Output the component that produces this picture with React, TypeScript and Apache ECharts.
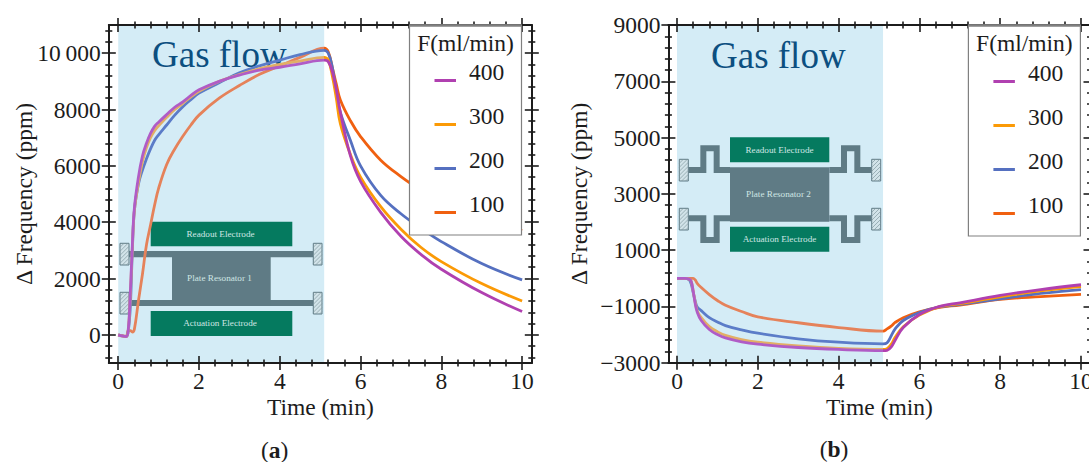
import React, { useEffect, useRef } from "react";
import * as echarts from "echarts";

// ---------- data ----------
const flowNames = ["400", "300", "200", "100"];
const gasWindow = [0, 5.1];

const timeA = [0, 0.1, 0.2, 0.25, 0.3, 0.35, 0.4, 0.5, 0.6, 0.7, 0.8, 0.9, 1, 1.2, 1.4, 1.6, 1.8, 2, 2.5, 3, 3.5, 4, 4.5, 5.1, 5.2, 5.3, 5.4, 5.5, 5.75, 6, 6.5, 7, 7.5, 8, 9, 10];
const a400 = [0, -40, -60, 200, 1500, 3200, 4500, 5600, 6350, 6800, 7150, 7400, 7550, 7820, 8080, 8270, 8500, 8700, 9000, 9220, 9400, 9500, 9620, 9750, 9700, 9350, 8700, 7900, 6350, 5450, 4350, 3500, 2850, 2330, 1500, 827];
const a300 = [0, -40, -60, 200, 1400, 3100, 4400, 5400, 6150, 6650, 7000, 7250, 7420, 7720, 8000, 8220, 8450, 8650, 9000, 9240, 9450, 9600, 9720, 9850, 9750, 9200, 8400, 7500, 6400, 5600, 4550, 3750, 3100, 2600, 1820, 1200];
const a200 = [0, -40, -60, 150, 1000, 3000, 4400, 5350, 5850, 6250, 6600, 6900, 7100, 7450, 7800, 8100, 8350, 8580, 8950, 9300, 9550, 9750, 9950, 10100, 10000, 9500, 8600, 7900, 6900, 6000, 4950, 4300, 3780, 3310, 2530, 1950];
const a100 = [0, -40, -50, 150, 150, 100, 200, 1200, 2150, 3200, 3900, 4600, 5200, 6050, 6600, 7050, 7450, 7800, 8400, 8850, 9250, 9550, 9850, 10180, 10050, 9500, 8900, 8340, 7600, 7040, 6200, 5620, 5130, 4700, 4150, 3700];

const timeB = [0, 0.2, 0.3, 0.35, 0.4, 0.45, 0.5, 0.6, 0.8, 1, 1.2, 1.6, 2, 3, 4, 5.1, 5.2, 5.3, 5.4, 5.6, 6, 6.5, 7, 8, 9, 10];
const b400 = [0, 0, -30, -100, -450, -900, -1200, -1500, -1820, -2000, -2120, -2260, -2340, -2460, -2530, -2570, -2560, -2450, -2200, -1750, -1290, -1000, -870, -610, -400, -230];
const b300 = [0, 0, -30, -100, -450, -850, -1150, -1400, -1720, -1900, -2030, -2180, -2270, -2400, -2490, -2530, -2500, -2350, -2100, -1720, -1310, -1010, -900, -660, -450, -300];
const b200 = [0, 0, -50, -200, -500, -800, -1020, -1150, -1400, -1550, -1680, -1830, -1950, -2150, -2270, -2330, -2290, -2050, -1800, -1500, -1220, -1020, -930, -730, -540, -400];
const b100 = [0, 0, 0, 0, 0, -60, -180, -330, -580, -790, -960, -1180, -1370, -1580, -1750, -1880, -1800, -1700, -1570, -1400, -1190, -1035, -950, -750, -650, -570];

const xTicks = [0, 2, 4, 6, 8, 10];
const yTicksA = [0, 2000, 4000, 6000, 8000, 10000];
const yLabelsA = ["0", "2000", "4000", "6000", "8000", "10\u2009000"];
const yTicksB = [-3000, -1000, 1000, 3000, 5000, 7000, 9000];
const yLabelsB = ["\u22123000", "\u22121000", "1000", "3000", "5000", "7000", "9000"];

// ---------- styles ----------
const FONT = '"Liberation Serif", "Times New Roman", serif';
const INK = "#1c1c1c";
const GAS = "#d4ecf6";
const GREEN = "#057a5f";
const SLATE = "#5f7b85";
const lineColors = ["#b040b0", "#fb9a06", "#5570c0", "#f06010"]; // outside the gas region
const gasColors = ["#b05cc6", "#e2ae66", "#5b7cc8", "#e5825a"]; // inside the gas region
// transparent corners stretch the icon box, so the stroke sits low and left in it
const LEGEND_ICON = "path://M0 0L0 0M295 0L295 0M295 200L295 200M0 170H215V200H0Z";

function minorValues(min: number, max: number, step: number, majorStep: number, anchor: number) {
  const out: number[] = [];
  const start = Math.ceil((min - anchor) / step);
  for (let k = start; anchor + k * step <= max + 1e-9; k++) {
    if (k % Math.round(majorStep / step) !== 0) out.push(anchor + k * step);
  }
  return out;
}

type Panel = {
  left: number; top: number; width: number; height: number;
  xMin: number; xMax: number; yMin: number; yMax: number;
  yTicks: number[]; yLabels: string[]; yMinorAnchor: number;
  time: number[]; series: number[][];
  xGap: number; yGap: number;
};

const panels: Panel[] = [
  {
    left: 108.8, top: 25, width: 423, height: 338,
    xMin: -0.233, xMax: 10.24, yMin: -1000, yMax: 11000,
    yTicks: yTicksA, yLabels: yLabelsA, yMinorAnchor: 0,
    time: timeA, series: [a400, a300, a200, a100], xGap: 25, yGap: 66,
  },
  {
    left: 668.4, top: 25, width: 422.1, height: 337.7,
    xMin: -0.213, xMax: 10.235, yMin: -3000, yMax: 9000,
    yTicks: yTicksB, yLabels: yLabelsB, yMinorAnchor: -3000,
    time: timeB, series: [b400, b300, b200, b100], xGap: 25, yGap: 70,
  },
];

const T = 3; // axis z
const base = { type: "value" as const, z: T, silent: true, splitLine: { show: false }, axisPointer: { show: false } };
const label = { color: INK, fontFamily: FONT, fontSize: 23.5 };

function buildAxes(p: Panel, gridIndex: number) {
  const xMinor = minorValues(p.xMin, p.xMax, 0.4, 2, 0);
  const yMinor = minorValues(p.yMin, p.yMax, 400, 2000, p.yMinorAnchor);
  const xs: any[] = [];
  const ys: any[] = [];
  const off = { axisLine: { show: false }, axisTick: { show: false }, axisLabel: { show: false } };
  const make = (dim: "x" | "y", position: string) => {
    const isX = dim === "x";
    const main = position === "bottom" || position === "left";
    const range = isX ? { min: p.xMin, max: p.xMax } : { min: p.yMin, max: p.yMax };
    const majors = isX ? xTicks : p.yTicks;
    const minors = isX ? xMinor : yMinor;
    const target = isX ? xs : ys;
    // frame edge
    target.push({ ...base, ...range, gridIndex, position, ...off,
      axisLine: { show: true, onZero: false, lineStyle: { color: INK, width: 2 } } });
    // major ticks straddle the frame
    target.push({ ...base, ...range, gridIndex, position, offset: 7, ...off,
      axisLine: { show: false, onZero: false },
      axisTick: { show: true, inside: true, length: 14, customValues: majors, lineStyle: { color: INK, width: 1.6 } },
      axisLabel: main
        ? {
            show: true, ...label, margin: isX ? -1 : 1, customValues: majors,
            formatter: (v: number) => (isX ? String(v) : p.yLabels[p.yTicks.indexOf(v)]),
          }
        : { show: false },
      ...(main
        ? {
            name: isX ? "Time (min)" : "\u0394 Frequency (ppm)",
            nameLocation: "middle",
            nameMoveOverlap: false,
            nameGap: p[isX ? "xGap" : "yGap"],
            nameTextStyle: label,
          }
        : {}),
    });
    // minor ticks straddle the frame
    target.push({ ...base, ...range, gridIndex, position, offset: 3.5, ...off,
      axisLine: { show: false, onZero: false },
      axisTick: { show: true, inside: true, length: 7, customValues: minors, lineStyle: { color: INK, width: 1.6 } } });
  };
  make("x", "bottom");
  make("x", "top");
  make("y", "left");
  make("y", "right");
  return { xs, ys };
}

function buildSeries(p: Panel, idx: number) {
  const xAxisIndex = idx * 6;
  const yAxisIndex = idx * 6;
  const stop = gasWindow[1] / 10;
  const list: any[] = [
    {
      name: "gas-" + idx, type: "line", data: [], xAxisIndex, yAxisIndex, z: 2, silent: true,
      markArea: {
        silent: true, itemStyle: { color: GAS, opacity: 1 },
        data: [[{ xAxis: gasWindow[0] }, { xAxis: gasWindow[1] }]],
      },
    },
  ];
  [3, 2, 1, 0].forEach((i) => {
    list.push({
      name: flowNames[i], type: "line", xAxisIndex, yAxisIndex, z: 4, showSymbol: false, symbol: "none",
      smooth: 0.4, silent: true, clip: true,
      data: p.time.map((t, k) => [t, p.series[i][k]]),
      itemStyle: { color: lineColors[i] },
      lineStyle: {
        width: 2.8,
        color: new echarts.graphic.LinearGradient(0, 0, 1, 0, [
          { offset: 0, color: gasColors[i] },
          { offset: stop, color: gasColors[i] },
          { offset: stop, color: lineColors[i] },
          { offset: 1, color: lineColors[i] },
        ]),
      },
    });
  });
  return list;
}

function anchor(x: number, y: number, w: number, h: number) {
  const els: any[] = [
    { type: "rect", z: 2.6, shape: { x, y, width: w, height: h }, style: { fill: "#d2e3e9", stroke: SLATE, lineWidth: 1 } },
  ];
  for (let k = 4; k < w + h; k += 4) {
    els.push({
      type: "line", z: 2.7,
      shape: {
        x1: x + Math.min(k, w), y1: y + Math.max(0, k - w),
        x2: x + Math.max(0, k - h), y2: y + Math.min(k, h),
      },
      style: { stroke: "#7f989f", lineWidth: 0.7 },
    });
  }
  return els;
}

function box(x: number, y: number, w: number, h: number, fill: string) {
  return { type: "rect", z: 2.5, shape: { x, y, width: w, height: h }, style: { fill } };
}

function caption(text: string, x: number, y: number, size = 9.2) {
  return {
    type: "text", z: 2.8,
    style: { text, x, y, fill: "#cfe6e4", font: `${size}px ${FONT}`, align: "center", verticalAlign: "middle" },
  };
}

function wire(points: number[][]) {
  return { type: "polyline", z: 2.5, shape: { points }, style: { stroke: SLATE, lineWidth: 6, fill: "none" } };
}

function bigText(text: string, x: number, y: number) {
  return { type: "text", z: 2.9, style: { text, x, y, fill: "#0c4f80", font: `37px ${FONT}`, align: "left", verticalAlign: "middle" } };
}

function legendBox(x: number, w: number, h: number) {
  return [
    { type: "rect", z: 10, shape: { x, y: 25, width: w, height: h }, style: { fill: "#fff", stroke: "#808080", lineWidth: 1.2 } },
    { type: "line", z: 10, shape: { x1: x, y1: 25.5, x2: x + w, y2: 25.5 }, style: { stroke: "#808080", lineWidth: 2.5 } },
    { type: "text", z: 11, style: { text: "F(ml/min)", x: x + w / 2, y: 43, fill: INK, font: `23.5px ${FONT}`, align: "center", verticalAlign: "middle" } },
  ];
}

function panelTag(letter: string, x: number, y: number) {
  return {
    type: "text", z: 11,
    style: {
      text: `{n|(}{b|${letter}}{n|)}`, x, y, align: "center", verticalAlign: "middle",
      rich: {
        n: { fontFamily: FONT, fontSize: 23.5, fill: INK, color: INK },
        b: { fontFamily: FONT, fontSize: 23.5, fontWeight: "bold", fill: INK, color: INK },
      },
    },
  };
}

const px = (x: number) => 670 + x / 3;
const py = (y: number) => 130 + y / 3;

function graphics() {
  const a = [
    bigText("Gas flow", 152, 54),
    box(150.7, 221.7, 141.6, 24.5, GREEN),
    box(150.7, 311, 141.6, 25, GREEN),
    box(129, 251, 184, 6.2, SLATE),
    box(129, 300, 184, 6, SLATE),
    box(172, 251, 98.7, 55, SLATE),
    caption("Readout Electrode", 220.5, 233.5),
    caption("Plate Resonator 1", 219.5, 278),
    caption("Actuation Electrode", 220, 323),
    ...anchor(120, 243.3, 9, 21.7),
    ...anchor(120, 292.3, 9, 21.7),
    ...anchor(313.3, 243.3, 8.7, 21.7),
    ...anchor(313.3, 292.3, 8.7, 21.7),
  ];
  const b = [
    bigText("Gas flow", 711, 55),
    box(730, 137.3, 99.3, 25, GREEN),
    box(730, 226.7, 99.3, 25, GREEN),
    box(730, 167.3, 99.3, 54.4, SLATE),
    wire([[px(55), py(120)], [px(100), py(120)], [px(100), py(55)], [px(140), py(55)], [px(140), py(120)], [px(180), py(120)]]),
    wire([[px(478), py(120)], [px(522), py(120)], [px(522), py(55)], [px(562), py(55)], [px(562), py(120)], [px(605), py(120)]]),
    wire([[px(55), py(265)], [px(100), py(265)], [px(100), py(330)], [px(140), py(330)], [px(140), py(265)], [px(180), py(265)]]),
    wire([[px(478), py(265)], [px(522), py(265)], [px(522), py(330)], [px(562), py(330)], [px(562), py(265)], [px(605), py(265)]]),
    caption("Readout Electrode", 779.5, 149.5),
    caption("Plate Resonator 2", 778.5, 194),
    caption("Actuation Electrode", 779.5, 239),
    ...anchor(679.3, 159.3, 9, 21.7),
    ...anchor(679.3, 208.3, 9, 21.7),
    ...anchor(871.7, 159.3, 9, 21.7),
    ...anchor(871.7, 208.3, 9, 21.7),
  ];
  return [
    ...a, ...b,
    ...legendBox(409.5, 112, 210),
    ...legendBox(968.4, 112, 211),
    panelTag("a", 274.6, 450),
    panelTag("b", 834, 449),
  ];
}

function legendAt(left: number, top: number) {
  return {
    left, top, z: 11, orient: "vertical" as const, icon: LEGEND_ICON, itemWidth: 29.5, itemHeight: 20,
    itemGap: 20, selectedMode: false, padding: 0,
    data: flowNames.map((name, i) => ({ name, itemStyle: { color: lineColors[i] } })),
    textStyle: { color: INK, fontFamily: FONT, fontSize: 23.5, height: 24, lineHeight: 24 },
  };
}

export default function App() {
  const ref = useRef<HTMLDivElement>(null);
  useEffect(() => {
    const chart = echarts.init(ref.current!, undefined, { renderer: "svg" });
    const axes = panels.map((p, i) => buildAxes(p, i));
    chart.setOption({
      animation: false,
      backgroundColor: "#ffffff",
      grid: panels.map((p) => ({ left: p.left, top: p.top, width: p.width, height: p.height, containLabel: false, outerBoundsMode: "none" })),
      xAxis: axes.flatMap((a) => a.xs),
      yAxis: axes.flatMap((a) => a.ys),
      series: panels.flatMap((p, i) => buildSeries(p, i)),
      legend: [legendAt(434.5, 60), legendAt(993.4, 61)],
      graphic: { elements: graphics() },
    });
    return () => chart.dispose();
  }, []);
  return <div ref={ref} style={{ position: "absolute", left: 0, top: 0, width: 1089, height: 462, overflow: "hidden" }} />;
}
